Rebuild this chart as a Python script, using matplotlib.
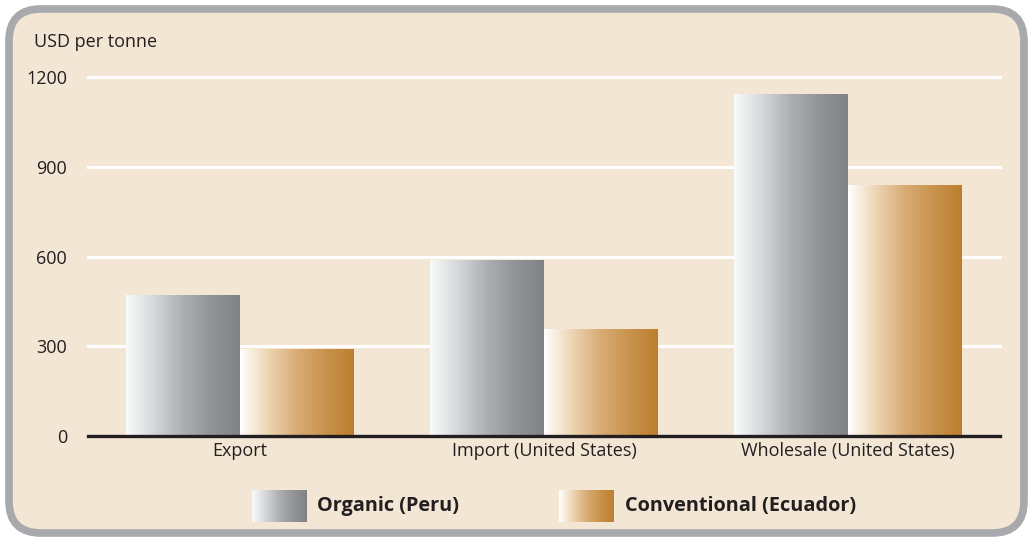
import matplotlib
matplotlib.use("Agg")
import matplotlib.pyplot as plt
import numpy as np
from matplotlib.colors import LinearSegmentedColormap
from matplotlib.patches import FancyBboxPatch

categories = ["Export", "Import (United States)", "Wholesale (United States)"]
organic = [470, 588, 1140]
conventional = [288, 355, 836]
series_labels = ["Organic (Peru)", "Conventional (Ecuador)"]
yticks = [0, 300, 600, 900, 1200]

plt.rcParams['font.family'] = ['Open Sans', 'DejaVu Sans']

W, H = 1028, 542
fig = plt.figure(figsize=(W / 100, H / 100), dpi=100)
fig.patch.set_facecolor('white')

BG = '#f3e6d4'
FRAME = '#a7a9ac'
TXT = '#231f20'


def c(r, g, b):
    return (r / 255, g / 255, b / 255)


gray_cmap = LinearSegmentedColormap.from_list(
    'g', [(0, c(250, 251, 251)), (0.25, c(212, 214, 216)), (0.5, c(172, 174, 177)),
          (0.75, c(146, 148, 151)), (1, c(128, 130, 133))])
orange_cmap = LinearSegmentedColormap.from_list(
    'o', [(0, c(255, 255, 253)), (0.25, c(236, 212, 178)), (0.5, c(216, 172, 117)),
          (0.75, c(201, 147, 78)), (1, c(188, 127, 46))])
grad = np.linspace(0, 1, 256).reshape(1, -1)

# background frame axes in pixel coordinates
bg = fig.add_axes([0, 0, 1, 1], zorder=0)
bg.set_xlim(0, W)
bg.set_ylim(H, 0)
bg.axis('off')
bg.add_patch(FancyBboxPatch((9, 9), 1015, 524, boxstyle="round,pad=0,rounding_size=32",
                            facecolor=BG, edgecolor=FRAME, linewidth=5.5))

# main axes
left, right = 88 / W, 1000 / W
bottom, top = (H - 436) / H, (H - 77) / H
ax = fig.add_axes([left, bottom, right - left, top - bottom], zorder=1)
ax.set_facecolor('none')

x = np.arange(len(categories))
bw = 0.375
b1 = ax.bar(x - bw / 2, organic, bw, color='none', zorder=3)
b2 = ax.bar(x + bw / 2, conventional, bw, color='none', zorder=3)
for bars, cmap in ((b1, gray_cmap), (b2, orange_cmap)):
    for r in bars:
        x0, w, h = r.get_x(), r.get_width(), r.get_height()
        ax.imshow(grad, extent=[x0, x0 + w, 0, h], aspect='auto', cmap=cmap,
                  zorder=3, interpolation='bilinear')

ax.set_xlim(-0.5, 2.5)
ax.set_ylim(0, 1200)
for t in yticks[1:]:
    ax.axhline(t, color='white', lw=2.2, zorder=1, clip_on=False)
ax.axhline(0, color=TXT, lw=2.4, zorder=4, clip_on=False)

for s in ax.spines.values():
    s.set_visible(False)
ax.set_yticks(yticks)
ax.set_yticklabels([str(v) for v in yticks], fontsize=13, color=TXT)
ax.set_xticks(x)
ax.set_xticklabels(categories, fontsize=13, color=TXT)
ax.tick_params(length=0)
ax.tick_params(axis='y', pad=15)
ax.tick_params(axis='x', pad=4)

bg.text(34, 42, "USD per tonne", fontsize=13, color=TXT, va='center', ha='left')

# legend
for (x0, cmap, lab, tx) in ((252, gray_cmap, series_labels[0], 317),
                            (559, orange_cmap, series_labels[1], 625)):
    bg.imshow(grad, extent=[x0, x0 + 55, 522, 490], aspect='auto', cmap=cmap,
              interpolation='bilinear', zorder=2)
    bg.text(tx, 506, lab, fontsize=14.3, fontweight='bold', color=TXT,
            va='center', ha='left')
bg.set_xlim(0, W)
bg.set_ylim(H, 0)

fig.savefig('out.png', dpi=100, facecolor='white')
